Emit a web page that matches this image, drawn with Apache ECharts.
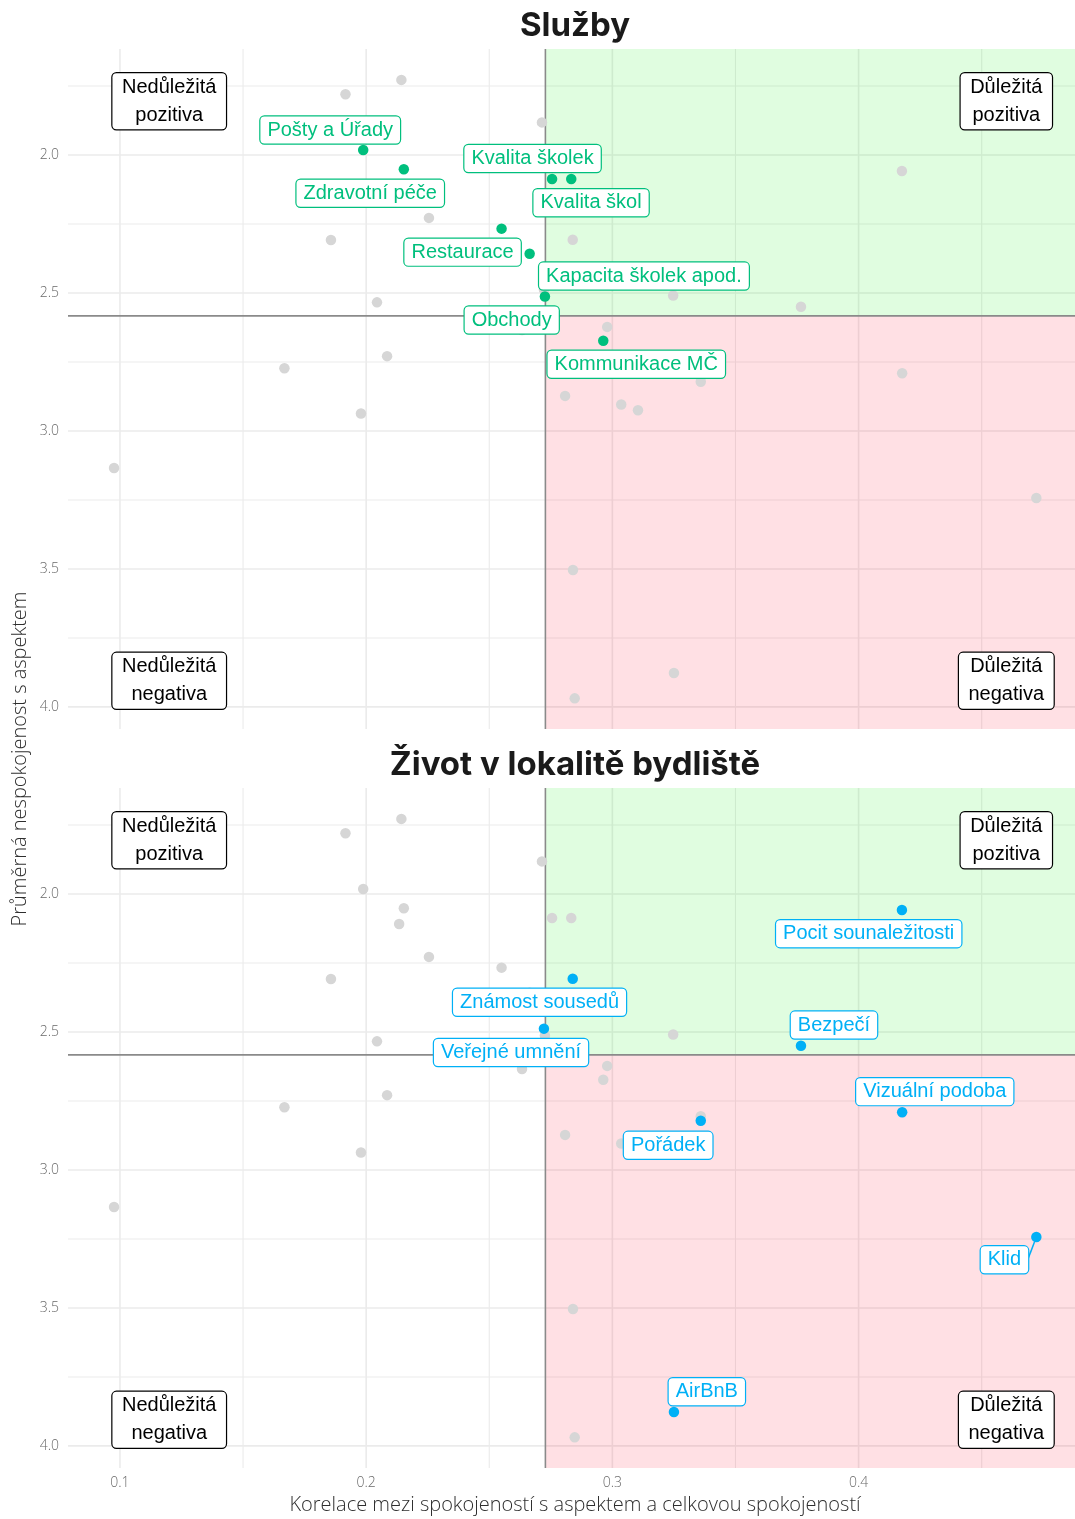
<!DOCTYPE html>
<html>
<head>
<meta charset="utf-8">
<script src="https://cdn.jsdelivr.net/npm/echarts@6/dist/echarts.min.js"></script>
<style>
  html, body { margin: 0; padding: 0; background: #ffffff; }
  #chart { width: 1075px; height: 1519px; }
</style>
</head>
<body>
<div id="chart"></div>
<script>
// ---------------- DATA ----------------
const panelTitles = ['Služby', 'Život v lokalitě bydliště'];

const sluzbyNames = ['Pošty a Úřady', 'Zdravotní péče', 'Kvalita školek', 'Kvalita škol',
  'Restaurace', 'Kapacita školek apod.', 'Obchody', 'Kommunikace MČ'];
const sluzbyX = [0.1988, 0.2153, 0.2755, 0.2833, 0.2550, 0.2664, 0.2726, 0.2963];
const sluzbyY = [1.982, 2.052, 2.087, 2.087, 2.267, 2.358, 2.513, 2.673];

const zivotNames = ['Pocit sounaležitosti', 'Známost sousedů', 'Veřejné umnění', 'Bezpečí',
  'Vizuální podoba', 'Pořádek', 'Klid', 'AirBnB'];
const zivotX = [0.4176, 0.2839, 0.2722, 0.3766, 0.4177, 0.3359, 0.4722, 0.3250];
const zivotY = [2.058, 2.307, 2.488, 2.550, 2.791, 2.822, 3.243, 3.877];

// other aspects (shown grey in both panels)
const otherX = [0.2143, 0.1916, 0.2714, 0.2134, 0.2255, 0.1857, 0.2044, 0.3247, 0.2979, 0.2633,
  0.2085, 0.1668, 0.3359, 0.2808, 0.3036, 0.3104, 0.1979, 0.0976, 0.2840, 0.2847];
const otherY = [1.728, 1.780, 1.882, 2.109, 2.228, 2.308, 2.534, 2.509, 2.623, 2.634,
  2.729, 2.773, 2.805, 2.873, 2.904, 2.925, 2.937, 3.134, 3.504, 3.969];

// quadrant thresholds
const xCut = 0.2728;
const yCut = 2.583;

// axis ranges and ticks
const xRange = [0.0789, 0.4879];
const yRange = [1.616, 4.08];
const xTicks = [0.1, 0.2, 0.3, 0.4];
const xMinorTicks = [0.15, 0.25, 0.35, 0.45];
const yTicks = [2.0, 2.5, 3.0, 3.5, 4.0];
const yMinorTicks = [1.75, 2.25, 2.75, 3.25, 3.75];

// quadrant annotation texts and their data positions
const quadrantTexts = ['Nedůležitá\npozitiva', 'Důležitá\npozitiva', 'Nedůležitá\nnegativa', 'Důležitá\nnegativa'];
const quadrantX = [0.12, 0.46, 0.12, 0.46];
const quadrantY = [1.8, 1.8, 3.9, 3.9];

const axisTitleX = 'Korelace mezi spokojeností s aspektem a celkovou spokojeností';
const axisTitleY = 'Průměrná nespokojenost s aspektem';

// ---------------- STYLE (label offsets in px, not data) ----------------
const sluzbyLabelOffsets = [[-33, -21.5], [-33.6, 22.4], [-19.5, -22], [19.8, 22.3],
  [-39, 22], [114.3, 20.8], [-33.2, 22], [33, 22]];
const zivotLabelOffsets = [[-33.2, 22.2], [-33.2, 22], [-32.9, 22.3], [33, -22.2],
  [32.6, -22.1], [-32.6, 23], [-31.9, 21.3], [32.9, -21.7]];
const LABEL_DY = 1.5;

const GREEN = '#00BF7D';
const BLUE = '#00B0F6';
const GREY_PT = '#d6d6d6';
const GRID_COL = '#ebebeb';
const REF_COL = '#8a8a8a';

// ---------------- BUILD ----------------
const chart = echarts.init(document.getElementById('chart'), null, { renderer: 'canvas' });

const grids = [
  { left: 68, right: 0, top: 49, height: 680 },
  { left: 68, right: 0, top: 788, height: 680 }
];

const tickFont = { fontFamily: 'Open Sans', fontWeight: 300, fontSize: 14, color: '#6a6a6a' };

const xAxes = [0, 1].map(i => ({
  type: 'value', gridIndex: i, min: xRange[0], max: xRange[1],
  axisLine: { show: false }, axisTick: { show: false }, splitLine: { show: false },
  axisLabel: Object.assign({
    show: i === 1, customValues: xTicks, margin: 8,
    formatter: v => Number(v).toFixed(1)
  }, tickFont)
}));
const yAxes = [0, 1].map(i => ({
  type: 'value', gridIndex: i, min: yRange[0], max: yRange[1], inverse: true,
  axisLine: { show: false }, axisTick: { show: false }, splitLine: { show: false },
  axisLabel: Object.assign({
    customValues: yTicks, margin: 9,
    formatter: v => Number(v).toFixed(1)
  }, tickFont)
}));

// segment/rect data: [x1, y1, x2, y2, kind]
function gridSegments() {
  const d = [];
  xMinorTicks.forEach(v => d.push([v, yRange[0], v, yRange[1], 1]));
  yMinorTicks.forEach(v => d.push([xRange[0], v, xRange[1], v, 1]));
  xTicks.forEach(v => d.push([v, yRange[0], v, yRange[1], 0]));
  yTicks.forEach(v => d.push([xRange[0], v, xRange[1], v, 0]));
  return d;
}
function quadrantRects() {
  return [[xCut, yRange[0], xRange[1], yCut, 3], [xCut, yCut, xRange[1], yRange[1], 4]];
}
function refLines() {
  return [[xCut, yRange[0], xCut, yRange[1], 2], [xRange[0], yCut, xRange[1], yCut, 2]];
}

function shapeSeries(gi, data, z) {
  return {
    type: 'custom', xAxisIndex: gi, yAxisIndex: gi, z: z, silent: true, animation: false,
    dimensions: ['x1', 'y1', 'x2', 'y2', 'k'],
    encode: { x: [0, 2], y: [1, 3] },
    data: data,
    renderItem: function (params, api) {
      const a = api.coord([api.value(0), api.value(1)]);
      const b = api.coord([api.value(2), api.value(3)]);
      const k = api.value(4);
      if (k === 3 || k === 4) {
        return {
          type: 'rect',
          shape: { x: Math.min(a[0], b[0]), y: Math.min(a[1], b[1]),
                   width: Math.abs(b[0] - a[0]), height: Math.abs(b[1] - a[1]) },
          style: { fill: k === 3 ? 'rgba(0,235,0,0.12)' : 'rgba(255,0,30,0.12)' }
        };
      }
      const w = k === 0 ? 1.6 : (k === 1 ? 1.1 : 1.6);
      const c = k === 2 ? REF_COL : GRID_COL;
      return {
        type: 'line',
        shape: { x1: a[0], y1: a[1], x2: b[0], y2: b[1] },
        style: { stroke: c, lineWidth: w }
      };
    }
  };
}

function greyPoints(gi, xs, ys) {
  return {
    type: 'scatter', xAxisIndex: gi, yAxisIndex: gi, z: 4, silent: true,
    symbolSize: 10.5, itemStyle: { color: GREY_PT, opacity: 1 },
    data: xs.map((x, i) => [x, ys[i]])
  };
}

function colouredPoints(gi, names, xs, ys, offsets, col) {
  return {
    type: 'scatter', xAxisIndex: gi, yAxisIndex: gi, z: 5, silent: true,
    symbolSize: 10.5, itemStyle: { color: col, opacity: 1 },
    data: names.map((n, i) => {
      const item = {
        name: n, value: [xs[i], ys[i]],
        label: { offset: [offsets[i][0], offsets[i][1] + LABEL_DY] }
      };
      if (n === 'Klid') {
        item.labelLine = { show: true, length2: 0, smooth: false, lineStyle: { color: col, width: 1.5 } };
      }
      return item;
    }),
    label: {
      show: true, position: 'inside', formatter: '{b}',
      fontFamily: 'Liberation Sans', fontSize: 20, lineHeight: 21, color: col,
      textBorderWidth: 0,
      backgroundColor: '#ffffff', borderColor: col, borderWidth: 1.2, borderRadius: 4,
      padding: [3, 7, 3, 7]
    }
  };
}

function quadrantLabels(gi) {
  return {
    type: 'scatter', xAxisIndex: gi, yAxisIndex: gi, z: 6, silent: true,
    symbol: 'circle', symbolSize: 1,
    itemStyle: { color: 'rgba(255,255,255,0)', opacity: 1 },
    data: quadrantTexts.map((t, i) => ({ name: t, value: [quadrantX[i], quadrantY[i]] })),
    label: {
      show: true, position: 'inside', formatter: '{b}', align: 'center',
      offset: [0, LABEL_DY], opacity: 1,
      fontFamily: 'Liberation Sans', fontSize: 20, lineHeight: 28, color: '#000000',
      textBorderWidth: 0,
      backgroundColor: '#ffffff', borderColor: '#000000', borderWidth: 1.2, borderRadius: 4,
      padding: [0, 9.5, 0, 9.5]
    }
  };
}

const allGreyTop = { x: otherX.concat(zivotX), y: otherY.concat(zivotY) };
const allGreyBottom = { x: otherX.concat(sluzbyX), y: otherY.concat(sluzbyY) };

const series = [];
[0, 1].forEach(gi => {
  series.push(shapeSeries(gi, gridSegments(), 1));
  series.push(shapeSeries(gi, quadrantRects(), 2));
  series.push(shapeSeries(gi, refLines(), 3));
});
series.push(greyPoints(0, allGreyTop.x, allGreyTop.y));
series.push(greyPoints(1, allGreyBottom.x, allGreyBottom.y));
series.push(colouredPoints(0, sluzbyNames, sluzbyX, sluzbyY, sluzbyLabelOffsets, GREEN));
series.push(colouredPoints(1, zivotNames, zivotX, zivotY, zivotLabelOffsets, BLUE));
series.push(quadrantLabels(0));
series.push(quadrantLabels(1));

const titleStyle = { fontFamily: 'Inter', fontWeight: 700, fontSize: 33, fill: '#1a1a1a',
  textAlign: 'center', textVerticalAlign: 'middle' };
const axisTitleStyle = { fontFamily: 'Open Sans', fontWeight: 300, fontSize: 20, fill: '#2e2e2e',
  textAlign: 'center', textVerticalAlign: 'middle' };

const option = {
  animation: false,
  backgroundColor: '#ffffff',
  grid: grids,
  xAxis: xAxes,
  yAxis: yAxes,
  series: series,
  graphic: [
    { type: 'text', x: 575, y: 26, silent: true, style: Object.assign({ text: panelTitles[0] }, titleStyle) },
    { type: 'text', x: 575, y: 765, silent: true, style: Object.assign({ text: panelTitles[1] }, titleStyle) },
    { type: 'text', x: 575, y: 1505, silent: true, style: Object.assign({ text: axisTitleX }, axisTitleStyle) },
    { type: 'text', x: 20, y: 759, rotation: Math.PI / 2, silent: true,
      style: Object.assign({ text: axisTitleY }, axisTitleStyle) }
  ]
};

chart.setOption(option);
</script>
</body>
</html>
